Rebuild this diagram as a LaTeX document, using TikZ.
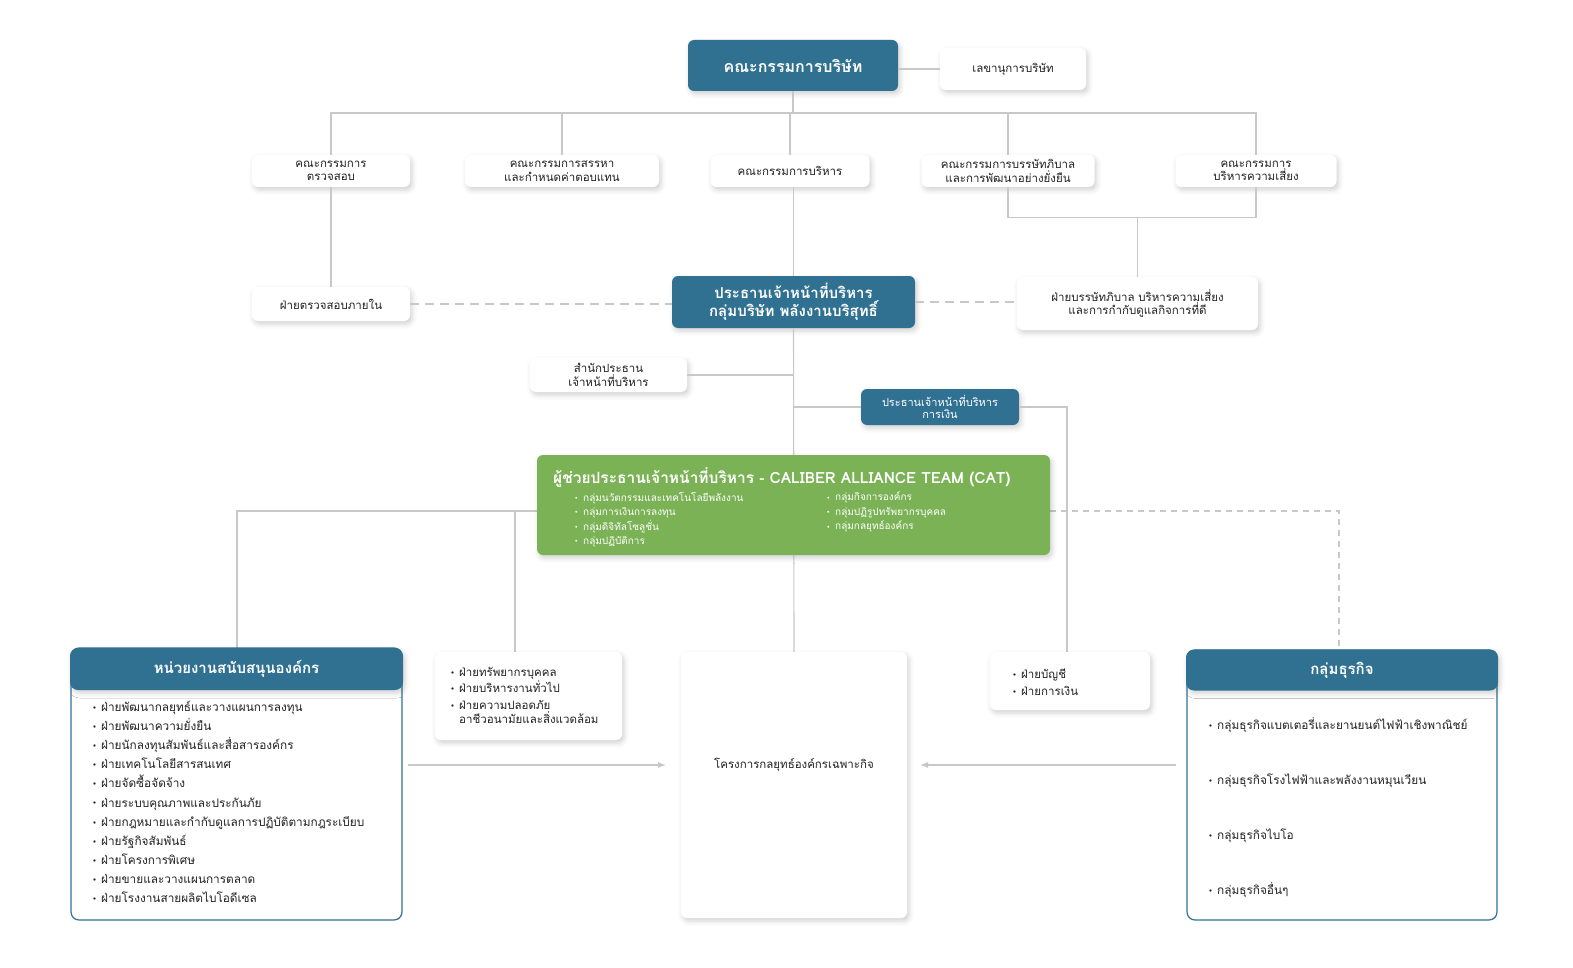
\documentclass[tikz,border=0pt]{standalone}
\usepackage{fontspec}
\setmainfont[Script=Thai]{Loma}
\usetikzlibrary{arrows.meta}
\usetikzlibrary{shadows.blur}
\definecolor{boardblue}{HTML}{307192}
\definecolor{teamgreen}{HTML}{7BB255}
\definecolor{linegray}{HTML}{C8C8C8}
\definecolor{inkgray}{HTML}{222222}
\tikzset{
  card/.style={fill=white, rounded corners=6pt, align=center, inner sep=0pt, text=inkgray,
    font=\fontsize{11.5}{13.5}\selectfont,
    blur shadow={shadow xshift=2pt, shadow yshift=-3pt, shadow blur radius=5pt, shadow opacity=18}},
  bluecard/.style={card, fill=boardblue, text=white},
  frame/.style={fill=white, draw=boardblue, line width=1.2pt, rounded corners=8pt, inner sep=0pt},
  list/.style={align=left, inner sep=0pt, text=inkgray, anchor=north west},
  link/.style={draw=linegray, line width=1.1pt},
  arrowlink/.style={link, -{Latex[length=8pt, width=6pt]}},
}
\newcommand{\bul}{\makebox[8pt][l]{\raisebox{0.35ex}{\scalebox{0.5}{$\bullet$}}}}

\begin{document}
\begin{tikzpicture}[x=1pt, y=-1pt]
  \useasboundingbox (0,0) rectangle (1573,968);

  % board and committees
  \node[bluecard, minimum width=210pt, minimum height=51pt, font=\bfseries\fontsize{16}{19}\selectfont] (board) at (793,65.5) {คณะกรรมการบริษัท};
  \node[card, minimum width=146pt, minimum height=42pt] (secretary) at (1013,69) {เลขานุการบริษัท};
  \coordinate (bus) at (793,113);
  \node[card, minimum width=158pt, minimum height=32pt] (audit) at (331,171) {คณะกรรมการ\\ตรวจสอบ};
  \node[card, minimum width=194pt, minimum height=32pt] (nomination) at (562,171) {คณะกรรมการสรรหา\\และกำหนดค่าตอบแทน};
  \node[card, minimum width=159pt, minimum height=32pt] (exec) at (790,171) {คณะกรรมการบริหาร};
  \node[card, minimum width=173pt, minimum height=32pt] (governance) at (1008,171) {คณะกรรมการบรรษัทภิบาล\\และการพัฒนาอย่างยั่งยืน};
  \node[card, minimum width=161pt, minimum height=32pt] (risk) at (1256,171) {คณะกรรมการ\\บริหารความเสี่ยง};

  % chief executive level
  \node[card, minimum width=158pt, minimum height=34pt] (intaudit) at (331,304) {ฝ่ายตรวจสอบภายใน};
  \node[bluecard, minimum width=243pt, minimum height=52pt, font=\bfseries\fontsize{15}{18}\selectfont] (ceo) at (793.5,302) {ประธานเจ้าหน้าที่บริหาร\\กลุ่มบริษัท พลังงานบริสุทธิ์};
  \node[card, minimum width=241pt, minimum height=53pt] (govdept) at (1137.5,303.5) {ฝ่ายบรรษัทภิบาล บริหารความเสี่ยง\\และการกำกับดูแลกิจการที่ดี};
  \node[card, minimum width=157pt, minimum height=34pt] (office) at (608.5,375) {สำนักประธาน\\เจ้าหน้าที่บริหาร};
  \node[bluecard, minimum width=158pt, minimum height=36pt, font=\fontsize{11}{12.5}\selectfont] (cfo) at (940,407) {ประธานเจ้าหน้าที่บริหาร\\การเงิน};

  % connectors (drawn below the boxes of the lower part)
  \draw[link] (secretary.west -| board.east) -- (secretary.west);
  \draw[link] (board.south) -- (bus);
  \draw[link] (audit.north) |- (bus) -| (risk.north);
  \draw[link] (nomination.north) -- (nomination.north |- bus);
  \draw[link] (exec.north) -- (exec.north |- bus);
  \draw[link] (governance.north) -- (governance.north |- bus);
  \draw[link] (audit.south) -- (intaudit.north);
  \draw[link] (governance.south) -- ++(0,30) -| (risk.south);
  \draw[link] (govdept.north) -- ++(0,-60);
  \draw[link] (exec.south -| ceo.north) -- (ceo.north);
  \draw[link, dash pattern=on 9pt off 6pt] (intaudit.east) -- (intaudit.east -| ceo.west);
  \draw[link, dash pattern=on 9pt off 6pt] (ceo.east) -- (ceo.east -| govdept.west);
  \draw[link] (office.east) -- (office.east -| ceo.south);
  \draw[link] (cfo.west -| ceo.south) -- (cfo.west);
  \coordinate (acctfoot) at (1067,652);
  \draw[link] (cfo.east) -| (acctfoot);
  \coordinate (leftbus) at (237,511);
  \coordinate (hrfoot) at (515,511);
  \coordinate (rightbus) at (1339,511);
  \draw[link] (ceo.south) -- (794,652);
  \draw[link] (537,511) -- (leftbus) -- (237,648);
  \draw[link] (hrfoot) -- (515,652);
  \draw[link, dash pattern=on 6pt off 5pt] (1050,511) -- (rightbus) -- (1339,650);

  % caliber alliance team
  \node[card, fill=teamgreen, minimum width=513pt, minimum height=100pt] (team) at (793.5,505) {};
  \node[anchor=west, text=white, inner sep=0pt, font=\bfseries\fontsize{15.5}{18}\selectfont] (teamtitle) at (553,477) {ผู้ช่วยประธานเจ้าหน้าที่บริหาร - CALIBER ALLIANCE TEAM (CAT)};
  \node[list, text=white, font=\fontsize{10}{14.5}\selectfont] (teamleft) at (575,492)
    {\bul กลุ่มนวัตกรรมและเทคโนโลยีพลังงาน\\\bul กลุ่มการเงินการลงทุน\\\bul กลุ่มดิจิทัลโซลูชั่น\\\bul กลุ่มปฏิบัติการ};
  \node[list, text=white, font=\fontsize{10}{14.5}\selectfont] (teamright) at (827,492)
    {\bul กลุ่มกิจการองค์กร\\\bul กลุ่มปฏิรูปทรัพยากรบุคคล\\\bul กลุ่มกลยุทธ์องค์กร};

  % lower row
  \node[card, minimum width=187pt, minimum height=88pt] (hr) at (528.5,696) {};
  \node[list, font=\fontsize{11.5}{16.5}\selectfont] (hrlist) at (451,667)
    {\bul ฝ่ายทรัพยากรบุคคล\\\bul ฝ่ายบริหารงานทั่วไป\\\bul ฝ่ายความปลอดภัย\\[-2.5pt]\hspace*{8pt}อาชีวอนามัยและสิ่งแวดล้อม};
  \node[card, minimum width=226pt, minimum height=266pt] (special) at (794,785) {};
  \node[inner sep=0pt, text=inkgray, font=\fontsize{11.5}{13.5}\selectfont] (specialtext) at (794,765) {โครงการกลยุทธ์องค์กรเฉพาะกิจ};
  \node[card, minimum width=160pt, minimum height=58pt] (acct) at (1070,681) {};
  \node[list, font=\fontsize{11.5}{17}\selectfont] (acctlist) at (1013,669)
    {\bul ฝ่ายบัญชี\\\bul ฝ่ายการเงิน};

  % support units
  \node[frame, minimum width=331pt, minimum height=272pt] (support) at (236.5,784) {};
  \node[bluecard, rounded corners=8pt, minimum width=333pt, minimum height=42pt, font=\bfseries\fontsize{15}{18}\selectfont] (supporthead) at (236.5,669) {หน่วยงานสนับสนุนองค์กร};
  \node[list, font=\fontsize{11.8}{19.1}\selectfont] (supportlist) at (93,701)
    {\bul ฝ่ายพัฒนากลยุทธ์และวางแผนการลงทุน\\
     \bul ฝ่ายพัฒนาความยั่งยืน\\
     \bul ฝ่ายนักลงทุนสัมพันธ์และสื่อสารองค์กร\\
     \bul ฝ่ายเทคโนโลยีสารสนเทศ\\
     \bul ฝ่ายจัดซื้อจัดจ้าง\\
     \bul ฝ่ายระบบคุณภาพและประกันภัย\\
     \bul ฝ่ายกฎหมายและกำกับดูแลการปฏิบัติตามกฎระเบียบ\\
     \bul ฝ่ายรัฐกิจสัมพันธ์\\
     \bul ฝ่ายโครงการพิเศษ\\
     \bul ฝ่ายขายและวางแผนการตลาด\\
     \bul ฝ่ายโรงงานสายผลิตไบโอดีเซล};

  % business groups
  \node[frame, minimum width=310pt, minimum height=270pt] (biz) at (1342,785) {};
  \node[bluecard, rounded corners=8pt, minimum width=312pt, minimum height=41pt, font=\bfseries\fontsize{15}{18}\selectfont] (bizhead) at (1342,670) {กลุ่มธุรกิจ};
  \node[list, font=\fontsize{11.8}{55}\selectfont] (bizlist) at (1209,717)
    {\bul กลุ่มธุรกิจแบตเตอรี่และยานยนต์ไฟฟ้าเชิงพาณิชย์\\
     \bul กลุ่มธุรกิจโรงไฟฟ้าและพลังงานหมุนเวียน\\
     \bul กลุ่มธุรกิจไบโอ\\
     \bul กลุ่มธุรกิจอื่นๆ};

  % arrows into the special projects
  \coordinate (leftarrow) at (408,765);
  \coordinate (rightarrow) at (1176,765);
  \draw[arrowlink] (leftarrow) -- (666,765);
  \draw[arrowlink] (rightarrow) -- (920,765);
\end{tikzpicture}
\end{document}
